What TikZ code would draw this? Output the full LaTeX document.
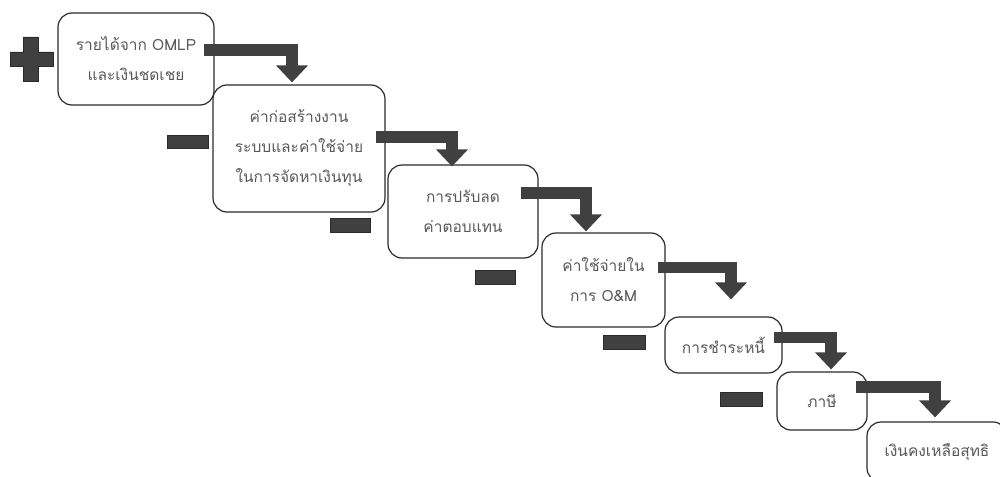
\documentclass[tikz,border=0pt]{standalone}
\usepackage{fontspec}
\newfontfamily\thaifont[Script=Thai]{Loma}
\usetikzlibrary{arrows.meta,calc}
\definecolor{boxline}{HTML}{2B2B2B}
\definecolor{txtgray}{HTML}{595959}
\definecolor{markfill}{HTML}{404040}
\definecolor{markline}{HTML}{2A2A2A}
\begin{document}
\begin{tikzpicture}[x=1pt,y=-1pt,
  stepbox/.style={draw=boxline, line width=1.2pt, rounded corners=14pt,
    fill=white, align=center, text=txtgray, inner sep=0pt,
    font=\thaifont\fontsize{15.5}{30}\selectfont},
  bent/.style={draw=markfill, line width=11.5pt, line join=miter,
    -{Triangle[width=31pt,length=17pt]}},
  minusbar/.style={draw=markline, fill=markfill, line width=0.8pt,
    minimum width=40pt, minimum height=14pt, inner sep=0pt}]
\useasboundingbox (0,0) rectangle (1000,476);

% the steps of the cash waterfall
\node[stepbox, minimum width=156pt, minimum height=92pt] (b1) at (136,59)
  {รายได้จาก OMLP\\และเงินชดเชย};
\node[stepbox, minimum width=172pt, minimum height=127pt] (b2) at (299,148.5)
  {ค่าก่อสร้างงาน\\ระบบและค่าใช้จ่าย\\ในการจัดหาเงินทุน};
\node[stepbox, minimum width=150pt, minimum height=93pt] (b3) at (463,211.5)
  {การปรับลด\\ค่าตอบแทน};
\node[stepbox, minimum width=123pt, minimum height=94pt] (b4) at (603.5,280)
  {ค่าใช้จ่ายใน\\การ O\&M};
\node[stepbox, minimum width=117pt, minimum height=56pt] (b5) at (723.5,345)
  {การชำระหนี้};
\node[stepbox, minimum width=90pt, minimum height=58pt] (b6) at (822,401)
  {ภาษี};
\node[stepbox, minimum width=140pt, minimum height=60pt] (b7) at (937,452)
  {เงินคงเหลือสุทธิ};

% bent arrows from each step down to the next
\draw[bent] ($(b1.east)+(-11,-9)$) -| ($(b2.north)+(-7,-2)$);
\draw[bent] ($(b2.east)+(-10,-11.5)$) -| ($(b3.north)+(-11,2)$);
\draw[bent] ($(b3.east)+(-18,-18.5)$) -| ($(b4.north)+(-17.5,-1)$);
\draw[bent] ($(b4.east)+(-8,-12.5)$) -| ($(b5.north)+(7.5,-17)$);
\draw[bent] ($(b5.east)+(-9,-7.5)$) -| ($(b6.north)+(9,-2)$);
\draw[bent] ($(b6.east)+(-12,-14)$) -| ($(b7.north)+(-2,-4)$);

% plus and minus signs
\filldraw[draw=markline, fill=markfill, line width=0.8pt]
  (23,37) -- (38,37) -- (38,52) -- (53,52) -- (53,66) -- (38,66) -- (38,81)
  -- (23,81) -- (23,66) -- (10,66) -- (10,52) -- (23,52) -- cycle;
\node[minusbar, minimum width=41pt, minimum height=13pt] (m2) at (187.5,141.5) {};
\node[minusbar] (m3) at (350,225) {};
\node[minusbar] (m4) at (495,277.5) {};
\node[minusbar, minimum width=42pt] (m5) at (624,342.5) {};
\node[minusbar, minimum width=42pt] (m6) at (741,399.5) {};
\end{tikzpicture}
\end{document}
